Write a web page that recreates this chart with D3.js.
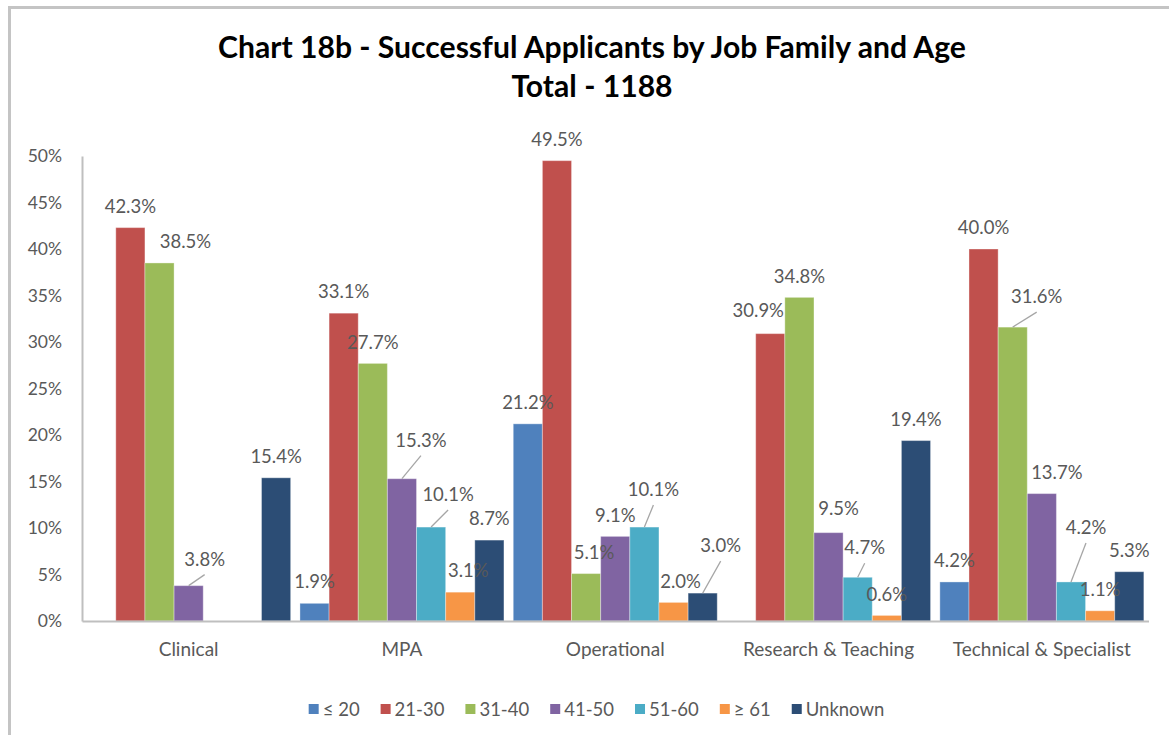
<!DOCTYPE html>
<html>
<head>
<meta charset="utf-8">
<script src="https://cdn.jsdelivr.net/npm/d3@7"></script>
<style>
  body { margin: 0; background: #fff; }
  svg { display: block; font-family: Lato, "Open Sans", sans-serif; }
</style>
</head>
<body>
<svg id="chart" width="1169" height="735"></svg>
<script>
// categories and age bands
var categories = ["Clinical", "MPA", "Operational", "Research & Teaching", "Technical & Specialist"];
var ageBands = ["\u2264 20", "21-30", "31-40", "41-50", "51-60", "\u2265 61", "Unknown"];

// percent of successful applicants, one array per age band
var age20 = [0, 1.9, 21.2, 0, 4.2];
var age21_30 = [42.3, 33.1, 49.5, 30.9, 40.0];
var age31_40 = [38.5, 27.7, 5.1, 34.8, 31.6];
var age41_50 = [3.8, 15.3, 9.1, 9.5, 13.7];
var age51_60 = [0, 10.1, 10.1, 4.7, 4.2];
var age61 = [0, 3.1, 2.0, 0.6, 1.1];
var ageUnknown = [15.4, 8.7, 3.0, 19.4, 5.3];

var yTicks = [0, 5, 10, 15, 20, 25, 30, 35, 40, 45, 50];

var seriesValues = [age20, age21_30, age31_40, age41_50, age51_60, age61, ageUnknown];
var colors = ["#4f81bd", "#c0504d", "#9bbb59", "#8064a2", "#4bacc6", "#f79646", "#2c4d75"];

// labels that were dragged off their bar in the original (dx, dy), with leader line or not
var labelMoves = {
	"Clinical|31-40": [26, 0, false],
	"Clinical|41-50": [16, -5, true],
	"MPA|41-50": [19, -17, true],
	"MPA|51-60": [17, -11, true],
	"MPA|\u2265 61": [8, 0, false],
	"Operational|31-40": [8, 0, false],
	"Operational|51-60": [9, -16, true],
	"Operational|\u2265 61": [7, 0, false],
	"Operational|Unknown": [18, -26, true],
	"Research & Teaching|21-30": [-12, -2, false],
	"Research & Teaching|41-50": [10, -3, false],
	"Research & Teaching|51-60": [7, -8, true],
	"Technical & Specialist|31-40": [24, -9, true],
	"Technical & Specialist|41-50": [15, 0, false],
	"Technical & Specialist|51-60": [15, -33, true]
};

var svg = d3.select('#chart');
var textGray = '#595959';
var axisGray = '#bfbfbf';

svg.append('rect').attr('width', 1169).attr('height', 735).style('fill', 'white');

// frame (only top and left edges visible)
svg.append('line').attr('x1', 8).attr('x2', 1169).attr('y1', 7.5).attr('y2', 7.5)
  .style('stroke', '#c4c4c4').style('stroke-width', 3);
svg.append('line').attr('x1', 9.5).attr('x2', 9.5).attr('y1', 6).attr('y2', 735)
  .style('stroke', '#c4c4c4').style('stroke-width', 3);

// title, fitted to the original width
var titleLines = ["Chart 18b - Successful Applicants by Job Family and Age", "Total - 1188"];
var t1 = svg.append('text').text(titleLines[0])
  .attr('x', 592).attr('y', 58)
  .attr('text-anchor', 'middle')
  .style('font-weight', 'bold').style('font-size', '29px').style('fill', '#000');
var titleSize = 29 * 748 / t1.node().getComputedTextLength();
t1.style('font-size', titleSize + 'px');
svg.append('text').text(titleLines[1])
  .attr('x', 592).attr('y', 97)
  .attr('text-anchor', 'middle')
  .style('font-weight', 'bold').style('font-size', titleSize + 'px').style('fill', '#000');

var plotLeft = 82, plotRight = 1148.5, plotTop = 156, plotBottom = 621;

var x0 = d3.scaleBand().domain(categories).range([plotLeft, plotRight])
  .paddingInner(0.0436).paddingOuter(0.0218);
var x1 = d3.scaleBand().domain(ageBands).range([0, x0.bandwidth()]);
var y = d3.scaleLinear().domain([0, 50]).range([plotBottom, plotTop]);

// y axis
var yAxis = svg.append('g')
  .attr('transform', 'translate(' + plotLeft + ',0)')
  .call(d3.axisLeft(y).tickValues(yTicks).tickSize(0).tickPadding(20)
    .tickFormat(function(d){ return d + '%'; }));
yAxis.select('.domain').style('stroke', axisGray).style('stroke-width', 2);
yAxis.selectAll('text')
  .style('font-size', '17.5px').style('fill', textGray)
  .style('font-family', 'Lato, sans-serif');

// flatten into bar records
var bars = [];
categories.forEach(function(c, ci){
	ageBands.forEach(function(a, ai){
		bars.push({ cat: c, band: a, value: seriesValues[ai][ci], color: colors[ai] });
	});
});

svg.append('g').selectAll('rect')
  .data(bars.filter(function(d){ return d.value > 0; }))
  .enter()
  .append('rect')
  .attr('x', function(d){ return x0(d.cat) + x1(d.band); })
  .attr('width', x1.bandwidth())
  .attr('y', function(d){ return y(d.value); })
  .attr('height', function(d){ return plotBottom - y(d.value); })
  .style('fill', function(d){ return d.color; })
  .style('stroke', 'rgba(255,255,255,0.35)')
  .style('stroke-width', 1);

// x axis (drawn after the bars so the baseline sits on top)
var xAxis = svg.append('g')
  .attr('transform', 'translate(0,' + plotBottom + ')')
  .call(d3.axisBottom(x0).tickSize(0).tickPadding(22));
xAxis.select('.domain').style('stroke', axisGray).style('stroke-width', 2);
xAxis.selectAll('text')
  .style('font-size', '19px').style('fill', textGray)
  .style('font-family', 'Lato, sans-serif');

// data labels
var labelled = bars.filter(function(d){ return d.value > 0; });
labelled.forEach(function(d){
	var mv = labelMoves[d.cat + '|' + d.band] || [0, 0, false];
	d.bx = x0(d.cat) + x1(d.band) + x1.bandwidth() / 2;
	d.by = y(d.value);
	d.lx = d.bx + mv[0];
	d.ly = d.by - 21.5 + mv[1];
	d.leader = mv[2];
});

svg.append('g').selectAll('line')
  .data(labelled.filter(function(d){ return d.leader; }))
  .enter()
  .append('line')
  .attr('x1', function(d){ return d.bx; })
  .attr('y1', function(d){ return d.by; })
  .attr('x2', function(d){ return d.lx; })
  .attr('y2', function(d){ return d.ly + 15.5; })
  .style('stroke', '#a6a6a6')
  .style('stroke-width', 1.3);

svg.append('g').selectAll('text')
  .data(labelled)
  .enter()
  .append('text')
  .text(function(d){ return d.value.toFixed(1) + '%'; })
  .attr('x', function(d){ return d.lx; })
  .attr('y', function(d){ return d.ly; })
  .attr('dy', '0.36em')
  .attr('text-anchor', 'middle')
  .style('font-size', '18.5px')
  .style('fill', textGray);

// legend
var legend = svg.append('g');
var lx = 0;
ageBands.forEach(function(a, i){
	var g = legend.append('g').attr('transform', 'translate(' + lx + ',0)');
	g.append('rect').attr('x', 0).attr('y', -5).attr('width', 10).attr('height', 10)
	  .style('fill', colors[i]);
	var t = g.append('text').text(a).attr('x', 14).attr('y', 0).attr('dy', '0.36em')
	  .style('font-size', '18.5px').style('fill', textGray);
	lx += 14 + t.node().getComputedTextLength() + 21;
});
lx -= 21;
legend.attr('transform', 'translate(' + (596.5 - lx / 2) + ',709)');
</script>
</body>
</html>
